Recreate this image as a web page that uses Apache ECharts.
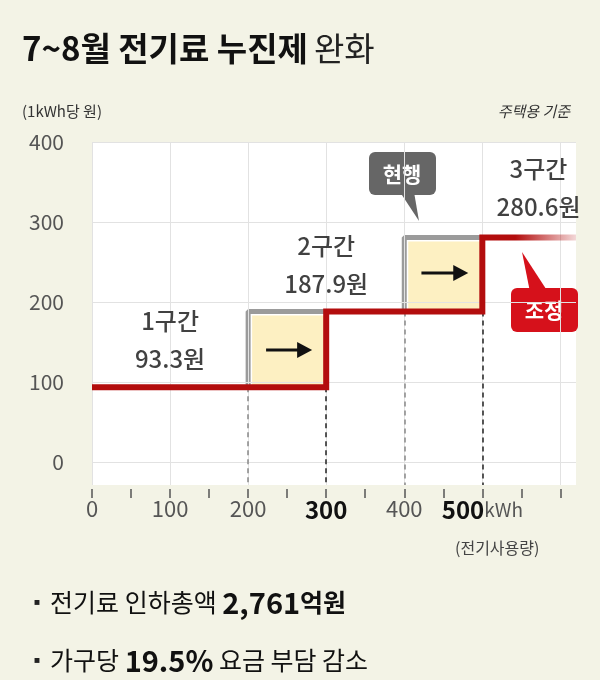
<!DOCTYPE html>
<html><head><meta charset="utf-8">
<script src="https://cdn.jsdelivr.net/npm/echarts@6/dist/echarts.min.js"></script>
<style>html,body{margin:0;padding:0;background:#f3f3e6}#main{width:600px;height:680px}</style>
</head><body><div id="main"></div>
<script>
// 누진제 구간 데이터
var xTicks = [0, 50, 100, 150, 200, 250, 300, 350, 400, 450, 500, 550, 600];
var xLabels = [0, 100, 200, 300, 400, 500];
var yLabels = [0, 100, 200, 300, 400];
var newStep = [[0, 93.3], [300, 93.3], [300, 187.9], [500, 187.9], [500, 280.6], [620, 280.6]];
var oldStep1 = [[200, 93.3], [200, 187.9], [300, 187.9]];
var oldStep2 = [[400, 187.9], [400, 280.6], [500, 280.6]];
var boxes = [[200, 300, 93.3, 187.9], [400, 500, 187.9, 280.6]];
var arrows = [[223, 282, 140], [422, 482, 236]];
var tierLabels = [[100, 152, '1구간\n93.3원'], [300, 246, '2구간\n187.9원'], [572, 343, '3구간\n280.6원']];
var FONT = '"Noto Sans CJK KR", "Noto Sans", sans-serif';

var myChart = echarts.init(document.getElementById('main'));

var gridLines = [];
yLabels.forEach(function (v) { gridLines.push({ yAxis: v }); });
xLabels.concat([600]).forEach(function (v) { gridLines.push({ xAxis: v }); });

function dash(x, y0, color) {
  return [{ coord: [x, y0], lineStyle: { color: color } }, { coord: [x, -29] }];
}

option = {
  backgroundColor: '#f3f3e6',
  textStyle: { fontFamily: FONT },
  grid: { left: 92, right: 24, top: 142, bottom: 195, backgroundColor: '#fff', show: true, borderWidth: 0 },
  xAxis: {
    type: 'value', min: 0, max: 620, offset: 4,
    axisLine: { show: false, onZero: false },
    splitLine: { show: false },
    axisTick: { show: true, customValues: xTicks, length: 9, lineStyle: { color: '#555', width: 1.5 } },
    axisLabel: {
      customValues: xLabels, margin: 9, color: '#555', fontSize: 22, fontFamily: FONT,
      formatter: function (v) {
        if (v === 300) return '{b|300}';
        if (v === 500) return '{b|500}{u|kWh}';
        return '{n|' + v + '}';
      },
      rich: {
        n: { fontSize: 22, color: '#555', fontFamily: FONT },
        b: { fontSize: 24, color: '#111', fontWeight: 'bold', fontFamily: FONT },
        u: { fontSize: 19, color: '#555', fontFamily: FONT }
      }
    }
  },
  yAxis: {
    type: 'value', min: -29, max: 400,
    axisLine: { show: false }, axisTick: { show: false }, splitLine: { show: false },
    axisLabel: { customValues: yLabels, margin: 28, color: '#555', fontSize: 21, fontFamily: FONT }
  },
  graphic: [
    { type: 'text', left: 22, top: 32, style: { text: '7~8월 전기료 누진제', font: 'bold 33px ' + FONT, fill: '#111' } },
    { type: 'text', left: 314, top: 32, style: { text: '완화', font: '33px ' + FONT, fill: '#222' } },
    { type: 'text', left: 22, top: 104, style: { text: '(1kWh당 원)', font: '15px ' + FONT, fill: '#333' } },
    { type: 'text', right: 30, top: 104, style: { text: '주택용 기준', font: 'italic 15px ' + FONT, fill: '#333' } },
    { type: 'text', left: 455, top: 540, style: { text: '(전기사용량)', font: '16px ' + FONT, fill: '#444' } },
    // 현행 callout
    { type: 'polygon', shape: { points: [[400, 192], [419, 221], [414, 192]] }, style: { fill: '#666' } },
    { type: 'rect', shape: { x: 369, y: 152, width: 67, height: 43, r: 6 }, style: { fill: '#666' } },
    { type: 'text', x: 402, y: 174, style: { text: '현행', font: 'bold 21px ' + FONT, fill: '#fff', align: 'center', verticalAlign: 'middle' } },
    // 조정 callout
    { type: 'polygon', shape: { points: [[522, 252], [530, 292], [548, 292]] }, style: { fill: '#d6111b' } },
    { type: 'rect', shape: { x: 511, y: 288, width: 67, height: 44, r: 6 }, style: { fill: '#d6111b' } },
    { type: 'text', x: 544, y: 310, style: { text: '조정', font: 'bold 21px ' + FONT, fill: '#fff', align: 'center', verticalAlign: 'middle' } },
    // bottom notes
    { type: 'text', left: 28, top: 588, style: { rich: {
      s: { fontSize: 18, fill: '#222', fontFamily: FONT },
      n: { fontSize: 25, fill: '#111', fontFamily: FONT },
      b: { fontSize: 29, fill: '#111', fontWeight: 'bold', fontFamily: FONT },
      m: { fontSize: 25, fill: '#111', fontWeight: 'bold', fontFamily: FONT }
    }, text: '{s|▪ }{n|전기료 인하총액 }{b|2,761}{m|억원}' } },
    { type: 'text', left: 28, top: 646, style: { rich: {
      s: { fontSize: 18, fill: '#222', fontFamily: FONT },
      n: { fontSize: 25, fill: '#111', fontFamily: FONT },
      b: { fontSize: 29, fill: '#111', fontWeight: 'bold', fontFamily: FONT }
    }, text: '{s|▪ }{n|가구당 }{b|19.5%}{n| 요금 부담 감소}' } }
  ],
  series: [
    {
      type: 'line', data: [], silent: true, z: 1,
      markLine: { silent: true, symbol: 'none', label: { show: false },
        lineStyle: { color: '#e2e2e2', width: 1, type: 'solid' }, data: gridLines }
    },
    {
      type: 'custom', z: 2, data: boxes,
      renderItem: function (params, api) {
        var p0 = api.coord([api.value(0), api.value(3)]);
        var p1 = api.coord([api.value(1), api.value(2)]);
        return { type: 'rect', shape: { x: p0[0] + 4, y: p0[1] + 4, width: p1[0] - p0[0] - 4, height: p1[1] - p0[1] - 4 }, style: { fill: '#fdf0c2' } };
      }
    },
    { type: 'line', z: 3, data: oldStep1, symbol: 'none', lineStyle: { color: '#9b9b9b', width: 5 } },
    { type: 'line', z: 3, data: oldStep2, symbol: 'none', lineStyle: { color: '#9b9b9b', width: 5 } },
    {
      type: 'line', data: [], z: 4,
      markLine: { silent: true, symbol: 'none', label: { show: false },
        lineStyle: { type: [5, 4], width: 1.5 },
        data: [dash(200, 93.3, '#888'), dash(300, 93.3, '#222'), dash(400, 187.9, '#888'), dash(500, 187.9, '#222')] }
    },
    {
      type: 'custom', z: 5, data: arrows,
      renderItem: function (params, api) {
        var a = api.coord([api.value(0), api.value(2)]);
        var b = api.coord([api.value(1), api.value(2)]);
        return { type: 'group', children: [
          { type: 'line', shape: { x1: a[0], y1: a[1], x2: b[0] - 12, y2: b[1] }, style: { stroke: '#111', lineWidth: 3 } },
          { type: 'polygon', shape: { points: [[b[0], b[1]], [b[0] - 15, b[1] - 8], [b[0] - 15, b[1] + 8]] }, style: { fill: '#111' } }
        ] };
      }
    },
    {
      type: 'line', z: 6, data: newStep, symbol: 'none',
      lineStyle: { width: 6, join: 'miter',
        color: new echarts.graphic.LinearGradient(0, 0, 1, 0, [
          { offset: 0, color: '#b30d0d' }, { offset: 0.87, color: '#b30d0d' }, { offset: 1, color: 'rgba(179,13,13,0.12)' }
        ]) }
    },
    {
      type: 'scatter', z: 7, data: tierLabels, symbolSize: 0, silent: true,
      label: { show: true, position: 'inside', color: '#111', fontSize: 24, fontWeight: 500, lineHeight: 38, fontFamily: FONT,
        formatter: function (p) { return p.data[2]; } }
    }
  ]
};
myChart.setOption(option);
</script></body></html>
